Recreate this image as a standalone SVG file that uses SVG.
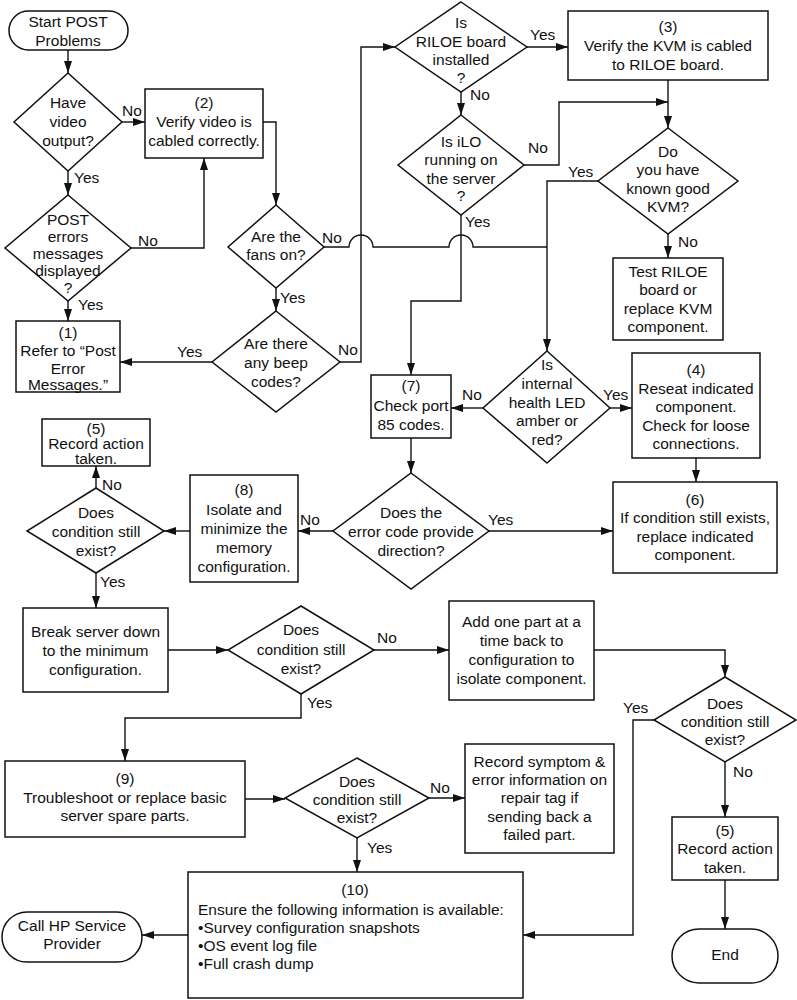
<svg xmlns="http://www.w3.org/2000/svg" width="797" height="1000" viewBox="0 0 797 1000">
<defs>
<marker id="a" markerWidth="12" markerHeight="8" refX="12" refY="4" orient="auto" markerUnits="userSpaceOnUse"><path d="M0,0 L12,4 L0,8 z" fill="#111"/></marker>
<style>
.s{fill:#fff;stroke:#111;stroke-width:1.5}
.c path{fill:none;stroke:#111;stroke-width:1.4}
.m{marker-end:url(#a)}
text{font-family:"Liberation Sans",Arial,sans-serif;font-size:15.5px;fill:#111;text-anchor:middle}
text.l{text-anchor:start}
</style>
</defs>
<rect width="797" height="1000" fill="#fff"/>
<g class="c" id="connectors">
<path class="m" d="M68,50 V73"/>
<path class="m" d="M122,122 H145"/>
<path class="m" d="M68,171 V195"/>
<path class="m" d="M131,248 H204 V158"/>
<path class="m" d="M68,301 V321"/>
<path class="m" d="M263,122 H276 V205"/>
<path class="m" d="M276,288 V311"/>
<path class="m" d="M212,362 H120"/>
<path class="m" d="M340,362 H361 V47 H395"/>
<path d="M324,247 H349 A12,12 0 0 1 373,247 H449 A12,12 0 0 1 473,247 H547"/>
<path class="m" d="M527,47 H568"/>
<path class="m" d="M461,92 V115"/>
<path class="m" d="M524,165 H559 V102 H668"/>
<path class="m" d="M668,80 V128"/>
<path class="m" d="M598,181 H547 V351"/>
<path class="m" d="M668,234 V258"/>
<path class="m" d="M461,215 V301 H411 V375"/>
<path class="m" d="M483,408 H451"/>
<path class="m" d="M610,408 H632"/>
<path class="m" d="M696,458 V482"/>
<path class="m" d="M411,438 V473"/>
<path class="m" d="M489,531 H613"/>
<path class="m" d="M333,531 H298"/>
<path class="m" d="M190,531 H164"/>
<path class="m" d="M96,488 V466"/>
<path class="m" d="M96,573 V608"/>
<path class="m" d="M168,650 H228"/>
<path class="m" d="M374,650 H449"/>
<path class="m" d="M594,650 H725 V677"/>
<path class="m" d="M654,720 H633 V935 H523"/>
<path class="m" d="M725,762 V817"/>
<path class="m" d="M725,880 V929"/>
<path class="m" d="M301,694 V718 H125 V761"/>
<path class="m" d="M245,799 H285"/>
<path class="m" d="M429,798 H465"/>
<path class="m" d="M357,838 V872"/>
<path class="m" d="M188,935 H142"/>
</g>
<g id="labels">
<text class="l" x="122" y="116">No</text>
<text class="l" x="74" y="183">Yes</text>
<text class="l" x="138" y="246">No</text>
<text class="l" x="78" y="310">Yes</text>
<text class="l" x="280" y="303">Yes</text>
<text class="l" x="177" y="357">Yes</text>
<text class="l" x="338" y="355">No</text>
<text class="l" x="322" y="243">No</text>
<text class="l" x="530" y="40">Yes</text>
<text class="l" x="470" y="100">No</text>
<text class="l" x="528" y="153">No</text>
<text class="l" x="568" y="177">Yes</text>
<text class="l" x="678" y="247">No</text>
<text class="l" x="465" y="227">Yes</text>
<text class="l" x="462" y="400">No</text>
<text class="l" x="603" y="400">Yes</text>
<text class="l" x="488" y="525">Yes</text>
<text class="l" x="300" y="525">No</text>
<text class="l" x="102" y="490">No</text>
<text class="l" x="100" y="587">Yes</text>
<text class="l" x="377" y="643">No</text>
<text class="l" x="623" y="713">Yes</text>
<text class="l" x="733" y="777">No</text>
<text class="l" x="307" y="708">Yes</text>
<text class="l" x="430" y="793">No</text>
<text class="l" x="367" y="853">Yes</text>
</g>
<g id="start"><rect class="s" x="9" y="11" width="119" height="39" rx="19.5"/><text x="68" y="27">Start POST</text><text x="68" y="46">Problems</text></g>
<g id="d-video"><polygon class="s" points="68,73 122,122 68,171 14,122"/><text x="68" y="108">Have</text><text x="68" y="127">video</text><text x="68" y="146">output?</text></g>
<g id="b2"><rect class="s" x="145" y="89" width="118" height="69"/><text x="204" y="108">(2)</text><text x="204" y="127">Verify video is</text><text x="204" y="146">cabled correctly.</text></g>
<g id="d-post"><polygon class="s" points="68,195 131,248 68,301 5,248"/><text x="68" y="225">POST</text><text x="68" y="242">errors</text><text x="68" y="259">messages</text><text x="68" y="276">displayed</text><text x="68" y="293">?</text></g>
<g id="b1"><rect class="s" x="16" y="321" width="104" height="71"/><text x="68" y="338">(1)</text><text x="68" y="356">Refer to “Post</text><text x="68" y="374">Error</text><text x="68" y="390">Messages.”</text></g>
<g id="d-fans"><polygon class="s" points="276,205 324,247 276,288 228,247"/><text x="276" y="242">Are the</text><text x="276" y="260">fans on?</text></g>
<g id="d-beep"><polygon class="s" points="276,311 340,362 276,412 212,362"/><text x="276" y="349">Are there</text><text x="276" y="368">any beep</text><text x="276" y="387">codes?</text></g>
<g id="d-riloe"><polygon class="s" points="461,2 527,47 461,92 395,47"/><text x="461" y="28">Is</text><text x="461" y="47">RILOE board</text><text x="461" y="65">installed</text><text x="461" y="83">?</text></g>
<g id="d-ilo"><polygon class="s" points="461,115 524,165 461,215 398,165"/><text x="461" y="147">Is iLO</text><text x="461" y="165">running on</text><text x="461" y="184">the server</text><text x="461" y="201">?</text></g>
<g id="b3"><rect class="s" x="568" y="11" width="200" height="69"/><text x="668" y="32">(3)</text><text x="668" y="51">Verify the KVM is cabled</text><text x="668" y="70">to RILOE board.</text></g>
<g id="d-kvm"><polygon class="s" points="668,128 738,181 668,234 598,181"/><text x="668" y="157">Do</text><text x="668" y="175">you have</text><text x="668" y="194">known good</text><text x="668" y="212">KVM?</text></g>
<g id="b-test"><rect class="s" x="613" y="258" width="110" height="82"/><text x="668" y="277">Test RILOE</text><text x="668" y="295">board or</text><text x="668" y="314">replace KVM</text><text x="668" y="332">component.</text></g>
<g id="d-led"><polygon class="s" points="547,351 610,408 547,463 483,408"/><text x="547" y="370">Is</text><text x="547" y="389">internal</text><text x="547" y="408">health LED</text><text x="547" y="426">amber or</text><text x="547" y="445">red?</text></g>
<g id="b7"><rect class="s" x="371" y="375" width="80" height="63"/><text x="411" y="391">(7)</text><text x="411" y="411">Check port</text><text x="411" y="430">85 codes.</text></g>
<g id="b4"><rect class="s" x="632" y="353" width="128" height="105"/><text x="696" y="375">(4)</text><text x="696" y="393.5">Reseat indicated</text><text x="696" y="412">component.</text><text x="696" y="430.5">Check for loose</text><text x="696" y="449">connections.</text></g>
<g id="b6"><rect class="s" x="613" y="482" width="164" height="91"/><text x="695" y="505">(6)</text><text x="695" y="523">If condition still exists,</text><text x="695" y="542">replace indicated</text><text x="695" y="560">component.</text></g>
<g id="d-err"><polygon class="s" points="411,473 489,531 411,589 333,531"/><text x="411" y="518">Does the</text><text x="411" y="537">error code provide</text><text x="411" y="556">direction?</text></g>
<g id="b8"><rect class="s" x="190" y="475" width="108" height="107"/><text x="244" y="495">(8)</text><text x="244" y="515">Isolate and</text><text x="244" y="534">minimize the</text><text x="244" y="553">memory</text><text x="244" y="572">configuration.</text></g>
<g id="d-cond1"><polygon class="s" points="96,488 164,531 96,573 27,531"/><text x="96" y="518">Does</text><text x="96" y="537">condition still</text><text x="96" y="556">exist?</text></g>
<g id="b5a"><rect class="s" x="42" y="419" width="108" height="47"/><text x="96" y="434">(5)</text><text x="96" y="449">Record action</text><text x="96" y="464">taken.</text></g>
<g id="b-break"><rect class="s" x="23" y="608" width="145" height="84"/><text x="95.5" y="637">Break server down</text><text x="95.5" y="656">to the minimum</text><text x="95.5" y="675">configuration.</text></g>
<g id="d-cond2"><polygon class="s" points="301,606 374,650 301,694 228,650"/><text x="301" y="635">Does</text><text x="301" y="655">condition still</text><text x="301" y="674">exist?</text></g>
<g id="b-add"><rect class="s" x="449" y="601" width="145" height="99"/><text x="521.5" y="627">Add one part at a</text><text x="521.5" y="646">time back to</text><text x="521.5" y="665">configuration to</text><text x="521.5" y="684">isolate component.</text></g>
<g id="d-cond3"><polygon class="s" points="725,677 796,720 725,762 654,720"/><text x="725" y="709">Does</text><text x="725" y="727">condition still</text><text x="725" y="745">exist?</text></g>
<g id="b5b"><rect class="s" x="672" y="817" width="106" height="63"/><text x="725" y="836">(5)</text><text x="725" y="854">Record action</text><text x="725" y="873">taken.</text></g>
<g id="end"><rect class="s" x="672" y="929" width="106" height="54" rx="27"/><text x="725" y="960">End</text></g>
<g id="b9"><rect class="s" x="5" y="761" width="240" height="76"/><text x="125" y="784">(9)</text><text x="125" y="803">Troubleshoot or replace basic</text><text x="125" y="821">server spare parts.</text></g>
<g id="d-cond4"><polygon class="s" points="357,758 429,798 357,838 285,798"/><text x="357" y="787">Does</text><text x="357" y="805">condition still</text><text x="357" y="823">exist?</text></g>
<g id="b-record"><rect class="s" x="465" y="744" width="149" height="109"/><text x="539.5" y="767">Record symptom &amp;</text><text x="539.5" y="785">error information on</text><text x="539.5" y="803">repair tag if</text><text x="539.5" y="822">sending back a</text><text x="539.5" y="840">failed part.</text></g>
<g id="b10"><rect class="s" x="188" y="872" width="335" height="126"/><text x="355" y="895">(10)</text><text class="l" x="198" y="915">Ensure the following information is available:</text><text class="l" x="198" y="933">•Survey configuration snapshots</text><text class="l" x="198" y="951">•OS event log file</text><text class="l" x="198" y="969">•Full crash dump</text></g>
<g id="call"><rect class="s" x="2" y="912" width="140" height="50" rx="25"/><text x="72" y="931">Call HP Service</text><text x="72" y="949">Provider</text></g>
</svg>
